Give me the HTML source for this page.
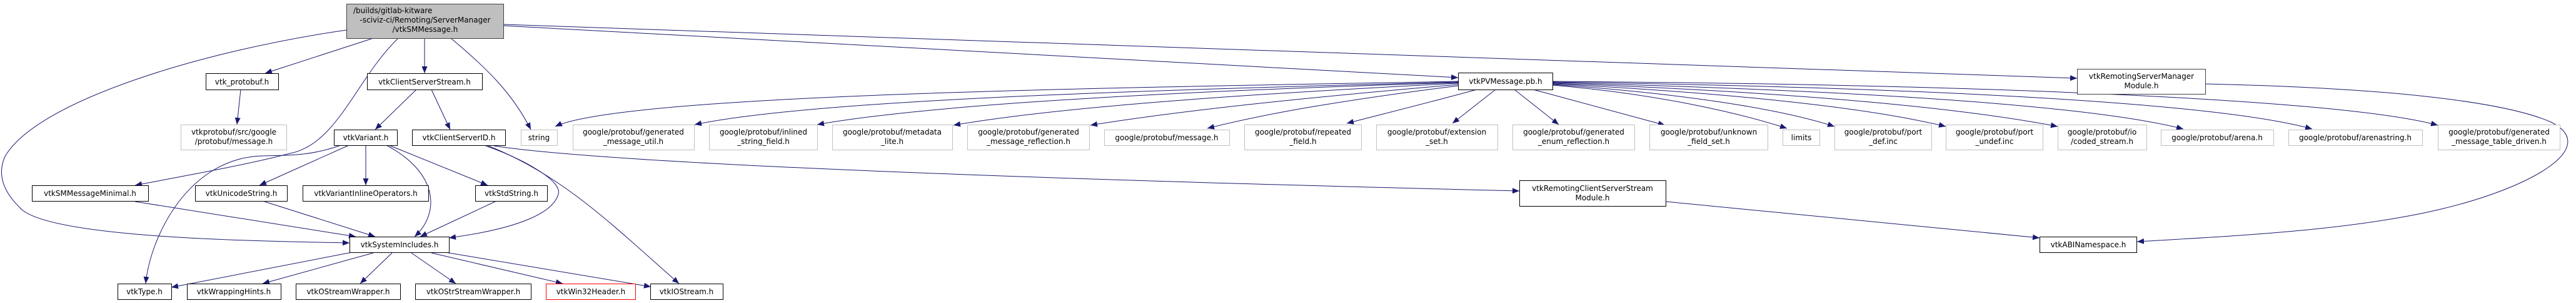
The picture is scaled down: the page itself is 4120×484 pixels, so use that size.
<!DOCTYPE html>
<html><head><meta charset="utf-8"><style>
html,body{margin:0;padding:0;background:#fff;width:4120px;height:484px;overflow:hidden}
svg text{font-family:"DejaVu Sans","Liberation Sans",sans-serif;font-size:12px;fill:#000}
</style></head><body>
<svg width="4120" height="484" viewBox="0 0 4120 484" xmlns="http://www.w3.org/2000/svg">
<defs>
<marker id="a" markerUnits="userSpaceOnUse" markerWidth="12" markerHeight="9" refX="11" refY="4.5" orient="auto">
<path d="M0,0 L11,4.5 L0,9 z" fill="#191970"/>
</marker>
</defs>
<g fill="none" stroke="#191970" stroke-width="1" marker-end="url(#a)">
<!-- from main -->
<path d="M554,48 C330,80 60,160 8,250 C-10,290 20,320 35,335 C90,380 400,385 559,388"/>
<path d="M597,61 L424,117"/>
<path d="M637,61 C570,125 540,230 464,245 C400,262 300,280 216,296"/>
<path d="M679,61 L679,117"/>
<path d="M721,61 C780,110 820,150 849,207"/>
<path d="M805,41 L2332,124"/>
<path d="M805,39 L3322,125"/>
<!-- vtk_protobuf -->
<path d="M385,143 L379,199"/>
<!-- ClientServerStream -->
<path d="M666,143 L600,207"/>
<path d="M690,143 L720,207"/>
<!-- ClientServerID -->
<path d="M777,233 C840,255 900,290 893,310 C885,340 830,365 718,380"/>
<path d="M781,233 C900,280 980,360 1086,453"/>
<path d="M790,233 C1000,265 1800,290 2430,305"/>
<!-- vtkVariant -->
<path d="M545,232 C500,248 470,248 420,249 C300,252 240,380 233,453"/>
<path d="M558,232 L415,296"/>
<path d="M585,232 L585,296"/>
<path d="M622,232 C680,255 740,280 780,296"/>
<path d="M618,232 C700,275 705,340 663,378"/>
<!-- row 4 to SystemIncludes -->
<path d="M216,322 L569,378"/>
<path d="M423,322 L600,378"/>
<path d="M792,322 L672,378"/>
<!-- SystemIncludes to bottom -->
<path d="M563,403 L274,459"/>
<path d="M597,404 L420,453"/>
<path d="M627,404 L576,453"/>
<path d="M658,404 L729,453"/>
<path d="M690,404 L900,453"/>
<path d="M712,403 L1041,458"/>
<!-- PVMessage to google headers -->
<path d="M2332,130 C1800,140 1000,150 888,202"/>
<path d="M2332,131 C1800,145 1300,160 1111,199"/>
<path d="M2332,132 C1900,145 1500,165 1307,199"/>
<path d="M2332,133 C2000,150 1700,170 1525,200"/>
<path d="M2332,135 C2100,155 1900,175 1744,200"/>
<path d="M2332,137 C2150,160 2030,180 1931,205"/>
<path d="M2362,143 C2300,160 2220,180 2154,197"/>
<path d="M2392,143 L2323,197"/>
<path d="M2422,143 L2493,199"/>
<path d="M2452,143 L2663,200"/>
<path d="M2483,136 C2650,150 2780,180 2858,205"/>
<path d="M2483,135 C2700,150 2850,175 2934,202"/>
<path d="M2483,134 C2800,150 3000,175 3112,202"/>
<path d="M2483,133 C2900,148 3150,175 3291,202"/>
<path d="M2483,132 C3000,145 3350,170 3492,206"/>
<path d="M2483,131 C3100,140 3550,165 3698,206"/>
<path d="M2483,130 C3200,135 3750,160 3899,200"/>
<!-- module -> ABI -->
<path d="M2664,322 L3262,380"/>
<path d="M3527,134 C3800,140 4000,160 4080,195 C4160,235 4050,300 3900,335 C3750,370 3550,378 3418,386"/>
</g>

<g stroke-width="1">
<!-- main -->
<rect x="554.5" y="6.5" width="251" height="55" fill="#bfbfbf" stroke="#404040"/>
<text x="565" y="21">/builds/gitlab-kitware</text>
<text x="680" y="36" text-anchor="middle">-sciviz-ci/Remoting/ServerManager</text>
<text x="680" y="51" text-anchor="middle">/vtkSMMessage.h</text>

<g fill="#fff" stroke="#000">
<rect x="329.5" y="117.5" width="116" height="26"/>
<rect x="587.5" y="117.5" width="184" height="26"/>
<rect x="2332.5" y="116.5" width="151" height="27"/>
<rect x="3322.5" y="110.5" width="205" height="40" stroke="#404040"/>
<rect x="534.5" y="207.5" width="101" height="25"/>
<rect x="659.5" y="207.5" width="149" height="25"/>
<rect x="51.5" y="296.5" width="186" height="25"/>
<rect x="312.5" y="296.5" width="147" height="25"/>
<rect x="484.5" y="296.5" width="201" height="25"/>
<rect x="760.5" y="296.5" width="115" height="25"/>
<rect x="2430.5" y="288.5" width="234" height="41"/>
<rect x="559.5" y="378.5" width="159" height="25"/>
<rect x="3262.5" y="378.5" width="155" height="25"/>
<rect x="188.5" y="453.5" width="86" height="25"/>
<rect x="299.5" y="453.5" width="150" height="25"/>
<rect x="473.5" y="453.5" width="167" height="25"/>
<rect x="664.5" y="453.5" width="185" height="25"/>
<rect x="1040.5" y="453.5" width="116" height="25"/>
</g>
<rect x="873.5" y="453.5" width="143" height="25" fill="#fff" stroke="#ff0000"/>

<g fill="#fff" stroke="#bfbfbf">
<rect x="289.5" y="199.5" width="169" height="40"/>
<rect x="833.5" y="207.5" width="58" height="25"/>
<rect x="916.5" y="199.5" width="194" height="40"/>
<rect x="1134.5" y="199.5" width="173" height="40"/>
<rect x="1331.5" y="199.5" width="192" height="40"/>
<rect x="1547.5" y="199.5" width="195" height="40"/>
<rect x="1766.5" y="207.5" width="200" height="25"/>
<rect x="1990.5" y="199.5" width="187" height="40"/>
<rect x="2201.5" y="199.5" width="194" height="40"/>
<rect x="2419.5" y="199.5" width="195" height="40"/>
<rect x="2638.5" y="199.5" width="189" height="40"/>
<rect x="2851.5" y="207.5" width="59" height="25"/>
<rect x="2934.5" y="199.5" width="155" height="40"/>
<rect x="3112.5" y="199.5" width="155" height="40"/>
<rect x="3291.5" y="199.5" width="142" height="40"/>
<rect x="3456.5" y="207.5" width="180" height="25"/>
<rect x="3660.5" y="207.5" width="214" height="25"/>
<rect x="3899.5" y="199.5" width="195" height="40"/>
</g>
</g>

<g text-anchor="middle">
<text x="387" y="135">vtk_protobuf.h</text>
<text x="679" y="135">vtkClientServerStream.h</text>
<text x="2408" y="134">vtkPVMessage.pb.h</text>
<text x="3425" y="126">vtkRemotingServerManager</text>
<text x="3425" y="141">Module.h</text>
<text x="585" y="224">vtkVariant.h</text>
<text x="734" y="224">vtkClientServerID.h</text>
<text x="144" y="313">vtkSMMessageMinimal.h</text>
<text x="386" y="313">vtkUnicodeString.h</text>
<text x="585" y="313">vtkVariantInlineOperators.h</text>
<text x="818" y="313">vtkStdString.h</text>
<text x="2547" y="305">vtkRemotingClientServerStream</text>
<text x="2547" y="320">Module.h</text>
<text x="639" y="395">vtkSystemIncludes.h</text>
<text x="3340" y="395">vtkABINamespace.h</text>
<text x="231" y="470">vtkType.h</text>
<text x="374" y="470">vtkWrappingHints.h</text>
<text x="557" y="470">vtkOStreamWrapper.h</text>
<text x="757" y="470">vtkOStrStreamWrapper.h</text>
<text x="945" y="470">vtkWin32Header.h</text>
<text x="1098" y="470">vtkIOStream.h</text>

<text x="374" y="215">vtkprotobuf/src/google</text>
<text x="374" y="230">/protobuf/message.h</text>
<text x="862" y="224">string</text>
<text x="1013" y="215">google/protobuf/generated</text>
<text x="1013" y="230">_message_util.h</text>
<text x="1221" y="215">google/protobuf/inlined</text>
<text x="1221" y="230">_string_field.h</text>
<text x="1427" y="215">google/protobuf/metadata</text>
<text x="1427" y="230">_lite.h</text>
<text x="1645" y="215">google/protobuf/generated</text>
<text x="1645" y="230">_message_reflection.h</text>
<text x="1866" y="224">google/protobuf/message.h</text>
<text x="2084" y="215">google/protobuf/repeated</text>
<text x="2084" y="230">_field.h</text>
<text x="2298" y="215">google/protobuf/extension</text>
<text x="2298" y="230">_set.h</text>
<text x="2517" y="215">google/protobuf/generated</text>
<text x="2517" y="230">_enum_reflection.h</text>
<text x="2733" y="215">google/protobuf/unknown</text>
<text x="2733" y="230">_field_set.h</text>
<text x="2881" y="224">limits</text>
<text x="3012" y="215">google/protobuf/port</text>
<text x="3012" y="230">_def.inc</text>
<text x="3190" y="215">google/protobuf/port</text>
<text x="3190" y="230">_undef.inc</text>
<text x="3362" y="215">google/protobuf/io</text>
<text x="3362" y="230">/coded_stream.h</text>
<text x="3546" y="224">google/protobuf/arena.h</text>
<text x="3767" y="224">google/protobuf/arenastring.h</text>
<text x="3997" y="215">google/protobuf/generated</text>
<text x="3997" y="230">_message_table_driven.h</text>
</g>
</svg>
</body></html>
